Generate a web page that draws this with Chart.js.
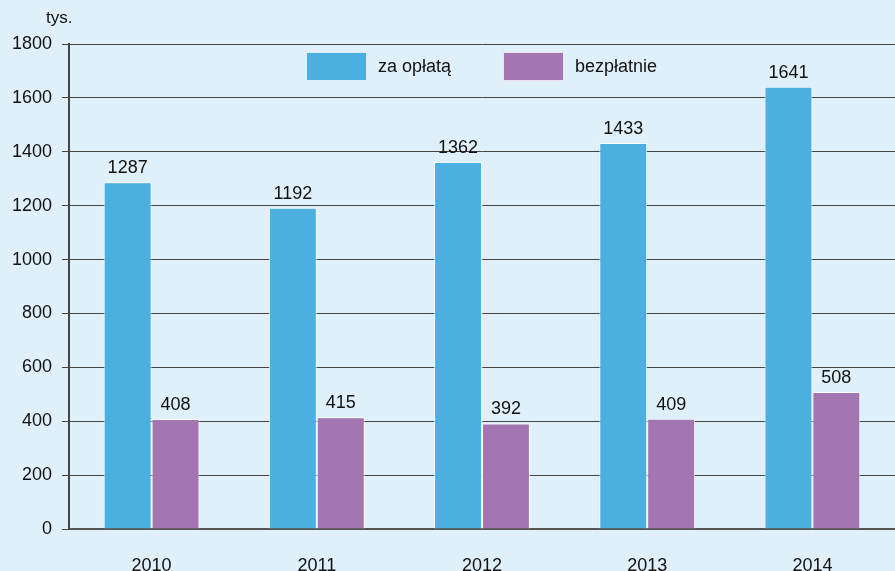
<!DOCTYPE html>
<html>
<head>
<meta charset="utf-8">
<script src="https://cdn.jsdelivr.net/npm/chart.js@4/dist/chart.umd.min.js"></script>
<style>
  html, body { margin: 0; padding: 0; background: #dff0fb; }
  #wrap { position: relative; width: 895px; height: 571px; overflow: hidden; }
  #unit { position: absolute; left: 46px; top: 8px; font: 17px "Liberation Sans", Arial, sans-serif; color: #111; }
</style>
</head>
<body>
<div id="wrap">
  <canvas id="chart" width="895" height="571"></canvas>
  <div id="unit">tys.</div>
</div>
<script>
const years = ["2010", "2011", "2012", "2013", "2014"];
const paid = [1287, 1192, 1362, 1433, 1641];
const free = [408, 415, 392, 409, 508];
const seriesNames = ["za opłatą", "bezpłatnie"];
const seriesColors = ["#4bafe0", "#a476b1"];
const yTicks = [0, 200, 400, 600, 800, 1000, 1200, 1400, 1600, 1800];

const FONT = '"Liberation Sans", Arial, sans-serif';

// value labels above each bar
const valueLabels = {
  id: "valueLabels",
  afterDatasetsDraw(chart) {
    const ctx = chart.ctx;
    ctx.save();
    ctx.font = "18px " + FONT;
    ctx.fillStyle = "#111";
    ctx.textAlign = "center";
    ctx.textBaseline = "bottom";
    chart.data.datasets.forEach((ds, i) => {
      chart.getDatasetMeta(i).data.forEach((bar, j) => {
        ctx.fillText(String(ds.data[j]), bar.x, bar.y - 5);
      });
    });
    ctx.restore();
  }
};

// legend drawn inside the plot area
const innerLegend = {
  id: "innerLegend",
  afterDatasetsDraw(chart) {
    const ctx = chart.ctx;
    const items = [{ x: 306 }, { x: 503 }];
    ctx.save();
    ctx.font = "18px " + FONT;
    ctx.textBaseline = "middle";
    chart.data.datasets.forEach((ds, i) => {
      const x = items[i].x;
      ctx.fillStyle = ds.backgroundColor;
      ctx.fillRect(x, 52, 61, 29);
      ctx.strokeStyle = "rgba(255,255,255,0.8)";
      ctx.lineWidth = 1;
      ctx.strokeRect(x + 0.5, 52.5, 60, 28);
      ctx.fillStyle = "#111";
      ctx.fillText(ds.label, x + 72, 67);
    });
    ctx.restore();
  }
};

new Chart(document.getElementById("chart"), {
  type: "bar",
  data: {
    labels: years,
    datasets: [
      { label: seriesNames[0], data: paid, backgroundColor: seriesColors[0] },
      { label: seriesNames[1], data: free, backgroundColor: seriesColors[1] }
    ]
  },
  options: {
    responsive: false,
    animation: false,
    layout: { padding: { top: 44, right: 0, left: 0, bottom: 0 } },
    datasets: {
      bar: {
        categoryPercentage: 0.58,
        barPercentage: 1,
        borderColor: "rgba(255,255,255,0.85)",
        borderWidth: 1,
        borderSkipped: "bottom"
      }
    },
    plugins: {
      legend: { display: false },
      tooltip: { enabled: false }
    },
    scales: {
      x: {
        afterFit(s) { s.height = 42; },
        grid: { display: false, drawTicks: false },
        border: { display: true, color: "#555", width: 2 },
        ticks: { padding: 26, color: "#111", font: { family: FONT, size: 18 } }
      },
      y: {
        min: 0,
        max: 1800,
        afterFit(s) { s.width = 69; },
        afterBuildTicks(s) { s.ticks = yTicks.map(v => ({ value: v })); },
        grid: { color: "#444", lineWidth: 1, tickLength: 7, drawTicks: true },
        border: { display: true, color: "#444", width: 2 },
        ticks: {
          padding: 10,
          color: "#111",
          font: { family: FONT, size: 18 },
          callback: v => String(v)
        }
      }
    }
  },
  plugins: [valueLabels, innerLegend]
});
</script>
</body>
</html>
